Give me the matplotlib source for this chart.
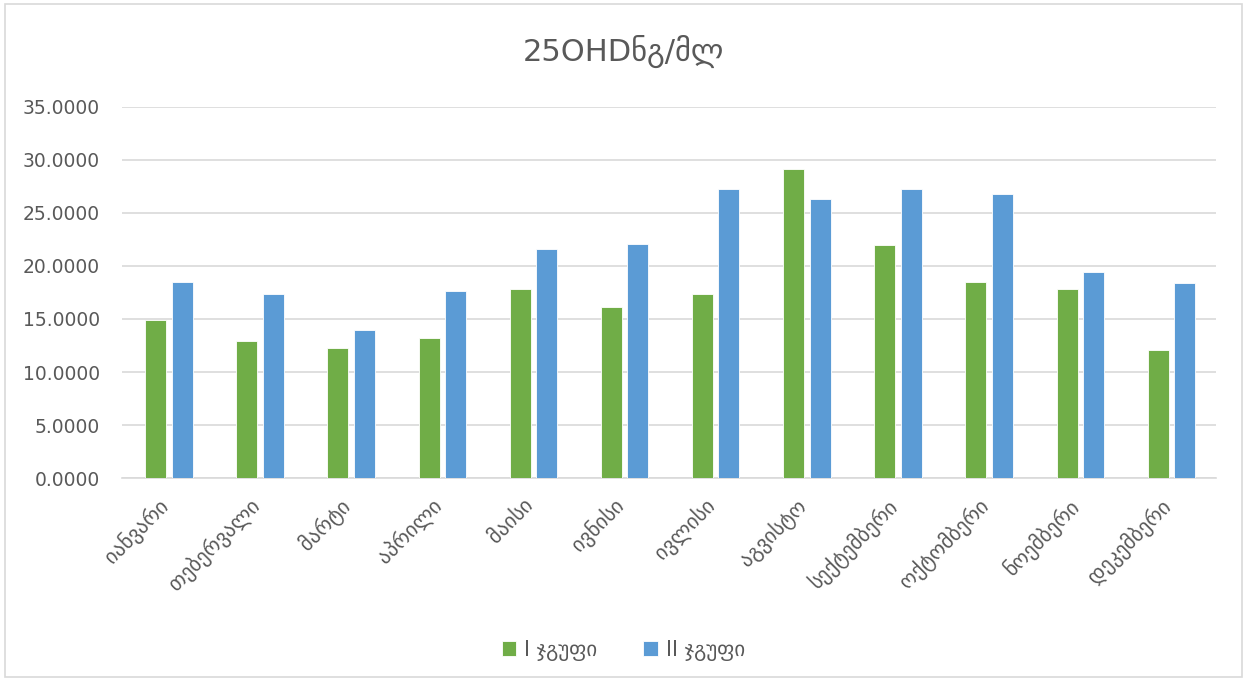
import matplotlib
matplotlib.use('Agg')
import matplotlib.pyplot as plt
import matplotlib.transforms as mtransforms
import numpy as np
from matplotlib.patches import Rectangle

plt.rcParams['font.family'] = ['DejaVu Sans']

# Monthly mean 25OHD, ng/ml
months = ["იანვარი", "თებერვალი", "მარტი", "აპრილი", "მაისი", "ივნისი",
          "ივლისი", "აგვისტო", "სექტემბერი", "ოქტომბერი", "ნოემბერი", "დეკემბერი"]
group1 = [14.90, 12.95, 12.24, 13.18, 17.83, 16.10, 17.36, 29.12, 21.95, 18.50, 17.83, 12.05]
group2 = [18.50, 17.36, 13.96, 17.60, 21.63, 22.10, 27.26, 26.30, 27.26, 26.80, 19.40, 18.37]
series_names = ["I ჯგუფი", "II ჯგუფი"]
title = "25OHDნგ/მლ"

text_color = '#595959'
grid_color = '#D9D9D9'

fig = plt.figure(figsize=(12.47, 6.81), dpi=100)
ax = fig.add_axes([0.0978, 0.298, 0.877, 0.545])

x = np.arange(len(months))
w = 0.23
ax.bar(x - 0.13, group1, w, color='#70AD47', edgecolor='white', linewidth=0.6,
       label=series_names[0], zorder=3)
ax.bar(x + 0.16, group2, w, color='#5B9BD5', edgecolor='white', linewidth=0.6,
       label=series_names[1], zorder=3)

ax.set_xlim(-0.5, len(months) - 0.5)
ax.set_ylim(0, 35)
ax.set_yticks(np.arange(0, 35.1, 5))
ax.set_yticklabels([f'{v:.4f}' for v in np.arange(0, 35.1, 5)], fontsize=13.5, color=text_color)
ax.yaxis.grid(True, color=grid_color, linewidth=1.2, zorder=0)
ax.set_axisbelow(True)
ax.tick_params(axis='y', length=0, pad=16)
ax.tick_params(axis='x', length=0, pad=12)

ax.set_xticks(x)
ax.set_xticklabels(months, rotation=45, ha='right', rotation_mode='anchor',
                   fontsize=15, color=text_color)
# nudge the slanted month labels a little to the left
shift = mtransforms.ScaledTranslation(-10 / 100, 0, fig.dpi_scale_trans)
for lbl in ax.get_xticklabels():
    lbl.set_transform(lbl.get_transform() + shift)

for side in ['top', 'right', 'left']:
    ax.spines[side].set_visible(False)
ax.spines['bottom'].set_color(grid_color)
ax.spines['bottom'].set_linewidth(1.2)

fig.text(0.5, 0.925, title, ha='center', va='center', fontsize=22, color=text_color)

leg = fig.legend(loc='center', bbox_to_anchor=(0.5, 0.045), ncol=2, frameon=False,
                 fontsize=15, handlelength=0.7, handleheight=0.7, columnspacing=2.2,
                 handletextpad=0.4)
for t in leg.get_texts():
    t.set_color(text_color)

# thin frame around the whole chart
fig.patches.append(Rectangle((0.004, 0.006), 0.992, 0.988, transform=fig.transFigure,
                             fill=False, edgecolor=grid_color, linewidth=1.2))

fig.savefig('out.png', dpi=100)
